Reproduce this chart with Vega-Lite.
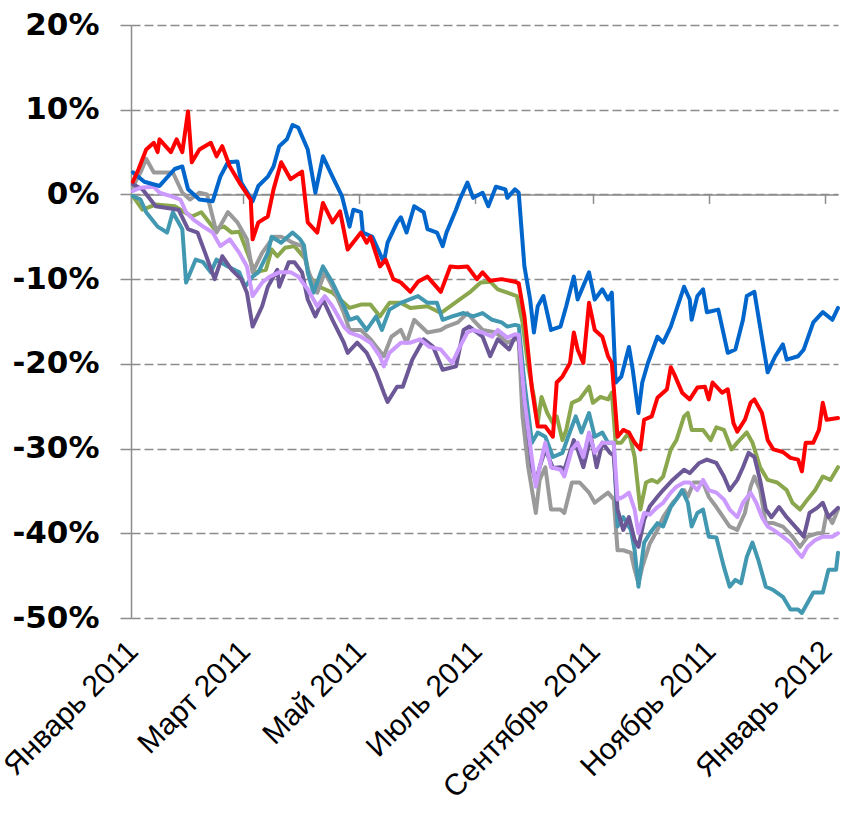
{
"$schema": "https://vega.github.io/schema/vega-lite/v6.json",
"width": 707, "height": 593,
"autosize": {"type": "none"},
"padding": {"left": 131, "top": 25, "right": 3, "bottom": 195},
"background": "white",
"config": {"view": {"stroke": null}, "font": "Liberation Sans"},
"resolve": {"axis": {"x": "independent"}},
"layer": [
{
"data": {"values": [
{"s":"1","d":"2011-01-02","v":-0.2},{"s":"1","d":"2011-01-07","v":-1.8},{"s":"1","d":"2011-01-14","v":-1.2},{"s":"1","d":"2011-01-24","v":-1.4},{"s":"1","d":"2011-02-02","v":-2.6},{"s":"1","d":"2011-02-07","v":-2.1},{"s":"1","d":"2011-02-14","v":-4.1},{"s":"1","d":"2011-02-19","v":-3.8},{"s":"1","d":"2011-02-23","v":-4.5},{"s":"1","d":"2011-02-27","v":-4.4},{"s":"1","d":"2011-03-04","v":-7.3},{"s":"1","d":"2011-03-07","v":-9.2},{"s":"1","d":"2011-03-13","v":-8.9},{"s":"1","d":"2011-03-16","v":-6.5},{"s":"1","d":"2011-03-19","v":-7.3},{"s":"1","d":"2011-03-23","v":-6.3},{"s":"1","d":"2011-03-28","v":-6.1},{"s":"1","d":"2011-04-03","v":-7.7},{"s":"1","d":"2011-04-05","v":-9.7},{"s":"1","d":"2011-04-10","v":-10.9},{"s":"1","d":"2011-04-17","v":-11.6},{"s":"1","d":"2011-04-23","v":-12.8},{"s":"1","d":"2011-04-26","v":-13.4},{"s":"1","d":"2011-05-02","v":-13.0},{"s":"1","d":"2011-05-07","v":-13.0},{"s":"1","d":"2011-05-12","v":-14.4},{"s":"1","d":"2011-05-17","v":-12.8},{"s":"1","d":"2011-05-23","v":-12.8},{"s":"1","d":"2011-05-28","v":-13.4},{"s":"1","d":"2011-06-06","v":-13.2},{"s":"1","d":"2011-06-13","v":-14.0},{"s":"1","d":"2011-06-23","v":-12.4},{"s":"1","d":"2011-06-28","v":-11.6},{"s":"1","d":"2011-07-04","v":-10.4},{"s":"1","d":"2011-07-09","v":-10.3},{"s":"1","d":"2011-07-13","v":-11.2},{"s":"1","d":"2011-07-18","v":-11.6},{"s":"1","d":"2011-07-23","v":-12.0},{"s":"1","d":"2011-07-26","v":-15.1},{"s":"1","d":"2011-07-29","v":-20.3},{"s":"1","d":"2011-08-01","v":-23.9},{"s":"1","d":"2011-08-03","v":-27.0},{"s":"1","d":"2011-08-05","v":-23.9},{"s":"1","d":"2011-08-08","v":-25.8},{"s":"1","d":"2011-08-11","v":-27.0},{"s":"1","d":"2011-08-13","v":-26.2},{"s":"1","d":"2011-08-16","v":-29.0},{"s":"1","d":"2011-08-18","v":-27.8},{"s":"1","d":"2011-08-21","v":-24.6},{"s":"1","d":"2011-08-25","v":-24.2},{"s":"1","d":"2011-08-30","v":-22.7},{"s":"1","d":"2011-09-01","v":-24.6},{"s":"1","d":"2011-09-05","v":-23.9},{"s":"1","d":"2011-09-09","v":-24.2},{"s":"1","d":"2011-09-11","v":-23.4},{"s":"1","d":"2011-09-13","v":-29.3},{"s":"1","d":"2011-09-16","v":-29.3},{"s":"1","d":"2011-09-20","v":-28.1},{"s":"1","d":"2011-09-23","v":-31.0},{"s":"1","d":"2011-09-26","v":-37.2},{"s":"1","d":"2011-09-29","v":-34.0},{"s":"1","d":"2011-10-02","v":-33.7},{"s":"1","d":"2011-10-05","v":-34.0},{"s":"1","d":"2011-10-08","v":-33.3},{"s":"1","d":"2011-10-12","v":-30.1},{"s":"1","d":"2011-10-15","v":-29.0},{"s":"1","d":"2011-10-19","v":-26.2},{"s":"1","d":"2011-10-21","v":-25.8},{"s":"1","d":"2011-10-23","v":-27.8},{"s":"1","d":"2011-10-29","v":-27.8},{"s":"1","d":"2011-11-02","v":-29.0},{"s":"1","d":"2011-11-05","v":-27.5},{"s":"1","d":"2011-11-09","v":-27.8},{"s":"1","d":"2011-11-13","v":-30.1},{"s":"1","d":"2011-11-16","v":-29.3},{"s":"1","d":"2011-11-21","v":-28.1},{"s":"1","d":"2011-11-24","v":-29.3},{"s":"1","d":"2011-11-28","v":-32.2},{"s":"1","d":"2011-12-02","v":-33.7},{"s":"1","d":"2011-12-07","v":-34.0},{"s":"1","d":"2011-12-12","v":-34.9},{"s":"1","d":"2011-12-15","v":-36.4},{"s":"1","d":"2011-12-19","v":-37.2},{"s":"1","d":"2011-12-23","v":-36.0},{"s":"1","d":"2011-12-27","v":-34.9},{"s":"1","d":"2011-12-31","v":-33.3},{"s":"1","d":"2012-01-04","v":-33.7},{"s":"1","d":"2012-01-08","v":-32.2},

{"s":"2","d":"2011-01-02","v":0.9},{"s":"2","d":"2011-01-06","v":2.6},{"s":"2","d":"2011-01-09","v":4.2},{"s":"2","d":"2011-01-13","v":2.6},{"s":"2","d":"2011-01-23","v":2.6},{"s":"2","d":"2011-01-28","v":0.2},{"s":"2","d":"2011-02-01","v":-0.6},{"s":"2","d":"2011-02-06","v":0.2},{"s":"2","d":"2011-02-10","v":0.0},{"s":"2","d":"2011-02-15","v":-4.5},{"s":"2","d":"2011-02-21","v":-2.1},{"s":"2","d":"2011-02-26","v":-3.3},{"s":"2","d":"2011-03-03","v":-5.3},{"s":"2","d":"2011-03-06","v":-9.2},{"s":"2","d":"2011-03-11","v":-6.9},{"s":"2","d":"2011-03-17","v":-5.0},{"s":"2","d":"2011-03-21","v":-5.0},{"s":"2","d":"2011-03-24","v":-5.3},{"s":"2","d":"2011-03-27","v":-5.7},{"s":"2","d":"2011-04-01","v":-6.1},{"s":"2","d":"2011-04-04","v":-8.9},{"s":"2","d":"2011-04-09","v":-11.6},{"s":"2","d":"2011-04-13","v":-9.2},{"s":"2","d":"2011-04-17","v":-10.9},{"s":"2","d":"2011-04-23","v":-14.0},{"s":"2","d":"2011-04-26","v":-16.0},{"s":"2","d":"2011-05-02","v":-16.0},{"s":"2","d":"2011-05-07","v":-17.1},{"s":"2","d":"2011-05-14","v":-19.1},{"s":"2","d":"2011-05-18","v":-16.8},{"s":"2","d":"2011-05-23","v":-16.0},{"s":"2","d":"2011-05-26","v":-17.5},{"s":"2","d":"2011-05-30","v":-14.8},{"s":"2","d":"2011-06-06","v":-16.3},{"s":"2","d":"2011-06-13","v":-16.0},{"s":"2","d":"2011-06-16","v":-15.6},{"s":"2","d":"2011-06-22","v":-15.1},{"s":"2","d":"2011-06-27","v":-14.0},{"s":"2","d":"2011-06-30","v":-14.8},{"s":"2","d":"2011-07-05","v":-16.0},{"s":"2","d":"2011-07-12","v":-16.3},{"s":"2","d":"2011-07-18","v":-17.5},{"s":"2","d":"2011-07-22","v":-17.1},{"s":"2","d":"2011-07-24","v":-17.2},{"s":"2","d":"2011-07-26","v":-26.2},{"s":"2","d":"2011-07-29","v":-32.2},{"s":"2","d":"2011-08-02","v":-37.6},{"s":"2","d":"2011-08-04","v":-33.7},{"s":"2","d":"2011-08-07","v":-32.2},{"s":"2","d":"2011-08-10","v":-37.2},{"s":"2","d":"2011-08-15","v":-37.2},{"s":"2","d":"2011-08-17","v":-37.6},{"s":"2","d":"2011-08-21","v":-34.0},{"s":"2","d":"2011-08-25","v":-34.0},{"s":"2","d":"2011-08-30","v":-35.2},{"s":"2","d":"2011-09-02","v":-36.4},{"s":"2","d":"2011-09-06","v":-35.7},{"s":"2","d":"2011-09-09","v":-35.2},{"s":"2","d":"2011-09-12","v":-36.0},{"s":"2","d":"2011-09-14","v":-42.0},{"s":"2","d":"2011-09-17","v":-42.0},{"s":"2","d":"2011-09-21","v":-42.3},{"s":"2","d":"2011-09-23","v":-44.3},{"s":"2","d":"2011-09-25","v":-45.9},{"s":"2","d":"2011-09-27","v":-44.0},{"s":"2","d":"2011-10-01","v":-41.2},{"s":"2","d":"2011-10-05","v":-39.6},{"s":"2","d":"2011-10-08","v":-38.1},{"s":"2","d":"2011-10-13","v":-36.4},{"s":"2","d":"2011-10-19","v":-34.9},{"s":"2","d":"2011-10-21","v":-35.7},{"s":"2","d":"2011-10-24","v":-34.0},{"s":"2","d":"2011-10-29","v":-34.0},{"s":"2","d":"2011-11-01","v":-35.7},{"s":"2","d":"2011-11-05","v":-36.9},{"s":"2","d":"2011-11-12","v":-39.2},{"s":"2","d":"2011-11-16","v":-39.6},{"s":"2","d":"2011-11-20","v":-37.6},{"s":"2","d":"2011-11-23","v":-34.5},{"s":"2","d":"2011-11-25","v":-33.3},{"s":"2","d":"2011-11-28","v":-34.9},{"s":"2","d":"2011-12-01","v":-38.8},{"s":"2","d":"2011-12-05","v":-38.8},{"s":"2","d":"2011-12-10","v":-39.2},{"s":"2","d":"2011-12-15","v":-40.4},{"s":"2","d":"2011-12-19","v":-41.6},{"s":"2","d":"2011-12-23","v":-40.4},{"s":"2","d":"2011-12-28","v":-40.0},{"s":"2","d":"2011-12-31","v":-40.0},{"s":"2","d":"2012-01-02","v":-37.6},{"s":"2","d":"2012-01-05","v":-38.8},{"s":"2","d":"2012-01-08","v":-37.2},

{"s":"3","d":"2011-01-02","v":-0.2},{"s":"3","d":"2011-01-06","v":-0.6},{"s":"3","d":"2011-01-09","v":-2.1},{"s":"3","d":"2011-01-15","v":-3.8},{"s":"3","d":"2011-01-20","v":-4.5},{"s":"3","d":"2011-01-23","v":-2.1},{"s":"3","d":"2011-01-28","v":-4.1},{"s":"3","d":"2011-01-30","v":-10.4},{"s":"3","d":"2011-02-04","v":-7.7},{"s":"3","d":"2011-02-08","v":-8.0},{"s":"3","d":"2011-02-12","v":-9.2},{"s":"3","d":"2011-02-15","v":-7.7},{"s":"3","d":"2011-02-21","v":-8.5},{"s":"3","d":"2011-02-27","v":-9.2},{"s":"3","d":"2011-03-02","v":-10.9},{"s":"3","d":"2011-03-06","v":-9.7},{"s":"3","d":"2011-03-09","v":-9.2},{"s":"3","d":"2011-03-14","v":-6.9},{"s":"3","d":"2011-03-16","v":-5.0},{"s":"3","d":"2011-03-21","v":-5.7},{"s":"3","d":"2011-03-27","v":-4.5},{"s":"3","d":"2011-03-31","v":-5.3},{"s":"3","d":"2011-04-02","v":-6.0},{"s":"3","d":"2011-04-04","v":-9.2},{"s":"3","d":"2011-04-07","v":-11.6},{"s":"3","d":"2011-04-12","v":-8.5},{"s":"3","d":"2011-04-17","v":-10.4},{"s":"3","d":"2011-04-23","v":-13.2},{"s":"3","d":"2011-04-26","v":-14.8},{"s":"3","d":"2011-04-30","v":-14.5},{"s":"3","d":"2011-05-05","v":-16.0},{"s":"3","d":"2011-05-10","v":-14.4},{"s":"3","d":"2011-05-13","v":-16.0},{"s":"3","d":"2011-05-17","v":-13.6},{"s":"3","d":"2011-05-23","v":-12.8},{"s":"3","d":"2011-06-01","v":-12.0},{"s":"3","d":"2011-06-06","v":-12.8},{"s":"3","d":"2011-06-11","v":-12.8},{"s":"3","d":"2011-06-14","v":-14.8},{"s":"3","d":"2011-06-19","v":-14.4},{"s":"3","d":"2011-06-25","v":-14.0},{"s":"3","d":"2011-06-30","v":-14.4},{"s":"3","d":"2011-07-05","v":-14.0},{"s":"3","d":"2011-07-10","v":-14.8},{"s":"3","d":"2011-07-15","v":-15.1},{"s":"3","d":"2011-07-18","v":-15.6},{"s":"3","d":"2011-07-22","v":-15.4},{"s":"3","d":"2011-07-24","v":-15.5},{"s":"3","d":"2011-07-27","v":-22.2},{"s":"3","d":"2011-07-31","v":-29.3},{"s":"3","d":"2011-08-03","v":-28.1},{"s":"3","d":"2011-08-07","v":-28.6},{"s":"3","d":"2011-08-11","v":-31.0},{"s":"3","d":"2011-08-16","v":-30.5},{"s":"3","d":"2011-08-19","v":-28.6},{"s":"3","d":"2011-08-23","v":-26.2},{"s":"3","d":"2011-08-26","v":-28.1},{"s":"3","d":"2011-08-30","v":-25.8},{"s":"3","d":"2011-09-02","v":-28.6},{"s":"3","d":"2011-09-06","v":-28.1},{"s":"3","d":"2011-09-09","v":-29.3},{"s":"3","d":"2011-09-12","v":-29.3},{"s":"3","d":"2011-09-14","v":-39.2},{"s":"3","d":"2011-09-17","v":-38.1},{"s":"3","d":"2011-09-21","v":-39.6},{"s":"3","d":"2011-09-23","v":-42.0},{"s":"3","d":"2011-09-25","v":-46.3},{"s":"3","d":"2011-09-28","v":-41.1},{"s":"3","d":"2011-10-01","v":-40.0},{"s":"3","d":"2011-10-05","v":-38.8},{"s":"3","d":"2011-10-08","v":-39.2},{"s":"3","d":"2011-10-12","v":-36.9},{"s":"3","d":"2011-10-15","v":-36.0},{"s":"3","d":"2011-10-18","v":-34.9},{"s":"3","d":"2011-10-21","v":-36.4},{"s":"3","d":"2011-10-23","v":-39.2},{"s":"3","d":"2011-10-26","v":-37.6},{"s":"3","d":"2011-10-29","v":-37.2},{"s":"3","d":"2011-11-01","v":-40.4},{"s":"3","d":"2011-11-05","v":-40.5},{"s":"3","d":"2011-11-09","v":-44.0},{"s":"3","d":"2011-11-12","v":-46.3},{"s":"3","d":"2011-11-15","v":-45.5},{"s":"3","d":"2011-11-18","v":-45.9},{"s":"3","d":"2011-11-21","v":-42.8},{"s":"3","d":"2011-11-24","v":-41.1},{"s":"3","d":"2011-11-27","v":-43.1},{"s":"3","d":"2011-12-01","v":-46.3},{"s":"3","d":"2011-12-05","v":-46.7},{"s":"3","d":"2011-12-10","v":-47.5},{"s":"3","d":"2011-12-14","v":-49.0},{"s":"3","d":"2011-12-18","v":-49.0},{"s":"3","d":"2011-12-20","v":-49.4},{"s":"3","d":"2011-12-23","v":-48.2},{"s":"3","d":"2011-12-26","v":-47.0},{"s":"3","d":"2011-12-31","v":-47.0},{"s":"3","d":"2012-01-03","v":-44.3},{"s":"3","d":"2012-01-07","v":-44.3},{"s":"3","d":"2012-01-08","v":-42.3},

{"s":"4","d":"2011-01-02","v":1.2},{"s":"4","d":"2011-01-07","v":0.6},{"s":"4","d":"2011-01-14","v":-1.4},{"s":"4","d":"2011-01-26","v":-1.8},{"s":"4","d":"2011-01-31","v":-4.1},{"s":"4","d":"2011-02-05","v":-4.5},{"s":"4","d":"2011-02-09","v":-6.9},{"s":"4","d":"2011-02-14","v":-10.0},{"s":"4","d":"2011-02-18","v":-7.3},{"s":"4","d":"2011-02-23","v":-8.9},{"s":"4","d":"2011-02-28","v":-10.0},{"s":"4","d":"2011-03-03","v":-11.6},{"s":"4","d":"2011-03-06","v":-15.6},{"s":"4","d":"2011-03-11","v":-13.2},{"s":"4","d":"2011-03-14","v":-10.9},{"s":"4","d":"2011-03-19","v":-8.9},{"s":"4","d":"2011-03-20","v":-10.9},{"s":"4","d":"2011-03-25","v":-8.0},{"s":"4","d":"2011-03-28","v":-8.0},{"s":"4","d":"2011-04-01","v":-9.2},{"s":"4","d":"2011-04-04","v":-12.4},{"s":"4","d":"2011-04-08","v":-14.4},{"s":"4","d":"2011-04-12","v":-12.4},{"s":"4","d":"2011-04-17","v":-14.8},{"s":"4","d":"2011-04-23","v":-17.5},{"s":"4","d":"2011-04-25","v":-18.7},{"s":"4","d":"2011-04-30","v":-17.5},{"s":"4","d":"2011-05-05","v":-18.7},{"s":"4","d":"2011-05-10","v":-21.0},{"s":"4","d":"2011-05-14","v":-23.4},{"s":"4","d":"2011-05-16","v":-24.5},{"s":"4","d":"2011-05-21","v":-22.7},{"s":"4","d":"2011-05-24","v":-22.7},{"s":"4","d":"2011-05-29","v":-19.5},{"s":"4","d":"2011-06-04","v":-17.1},{"s":"4","d":"2011-06-09","v":-18.0},{"s":"4","d":"2011-06-14","v":-20.7},{"s":"4","d":"2011-06-21","v":-20.3},{"s":"4","d":"2011-06-25","v":-16.0},{"s":"4","d":"2011-06-28","v":-15.6},{"s":"4","d":"2011-07-02","v":-16.3},{"s":"4","d":"2011-07-05","v":-16.8},{"s":"4","d":"2011-07-09","v":-19.1},{"s":"4","d":"2011-07-13","v":-17.1},{"s":"4","d":"2011-07-19","v":-18.3},{"s":"4","d":"2011-07-22","v":-16.8},{"s":"4","d":"2011-07-24","v":-17.0},{"s":"4","d":"2011-07-27","v":-24.2},{"s":"4","d":"2011-07-31","v":-32.2},{"s":"4","d":"2011-08-02","v":-34.0},{"s":"4","d":"2011-08-04","v":-32.2},{"s":"4","d":"2011-08-07","v":-30.1},{"s":"4","d":"2011-08-11","v":-32.3},{"s":"4","d":"2011-08-15","v":-32.2},{"s":"4","d":"2011-08-17","v":-32.5},{"s":"4","d":"2011-08-22","v":-29.0},{"s":"4","d":"2011-08-24","v":-30.1},{"s":"4","d":"2011-08-27","v":-32.2},{"s":"4","d":"2011-08-31","v":-28.6},{"s":"4","d":"2011-09-03","v":-32.2},{"s":"4","d":"2011-09-06","v":-29.3},{"s":"4","d":"2011-09-10","v":-30.5},{"s":"4","d":"2011-09-12","v":-30.8},{"s":"4","d":"2011-09-14","v":-37.2},{"s":"4","d":"2011-09-17","v":-39.6},{"s":"4","d":"2011-09-20","v":-38.1},{"s":"4","d":"2011-09-23","v":-40.8},{"s":"4","d":"2011-09-25","v":-41.6},{"s":"4","d":"2011-09-28","v":-38.4},{"s":"4","d":"2011-10-01","v":-36.8},{"s":"4","d":"2011-10-05","v":-35.7},{"s":"4","d":"2011-10-08","v":-34.9},{"s":"4","d":"2011-10-13","v":-33.7},{"s":"4","d":"2011-10-19","v":-32.5},{"s":"4","d":"2011-10-22","v":-32.9},{"s":"4","d":"2011-10-27","v":-31.7},{"s":"4","d":"2011-10-31","v":-31.3},{"s":"4","d":"2011-11-05","v":-31.7},{"s":"4","d":"2011-11-09","v":-33.3},{"s":"4","d":"2011-11-12","v":-34.9},{"s":"4","d":"2011-11-16","v":-33.7},{"s":"4","d":"2011-11-19","v":-32.2},{"s":"4","d":"2011-11-22","v":-30.5},{"s":"4","d":"2011-11-25","v":-31.0},{"s":"4","d":"2011-11-28","v":-33.7},{"s":"4","d":"2011-12-01","v":-37.2},{"s":"4","d":"2011-12-04","v":-38.1},{"s":"4","d":"2011-12-08","v":-36.9},{"s":"4","d":"2011-12-12","v":-38.1},{"s":"4","d":"2011-12-18","v":-39.6},{"s":"4","d":"2011-12-21","v":-40.4},{"s":"4","d":"2011-12-24","v":-37.6},{"s":"4","d":"2011-12-28","v":-37.0},{"s":"4","d":"2011-12-31","v":-36.4},{"s":"4","d":"2012-01-03","v":-38.1},{"s":"4","d":"2012-01-08","v":-37.0},

{"s":"5","d":"2011-01-02","v":0.4},{"s":"5","d":"2011-01-06","v":0.8},{"s":"5","d":"2011-01-13","v":0.9},{"s":"5","d":"2011-01-16","v":0.2},{"s":"5","d":"2011-01-22","v":-0.2},{"s":"5","d":"2011-01-27","v":-0.6},{"s":"5","d":"2011-01-30","v":-2.1},{"s":"5","d":"2011-02-03","v":-3.0},{"s":"5","d":"2011-02-08","v":-3.8},{"s":"5","d":"2011-02-13","v":-4.5},{"s":"5","d":"2011-02-17","v":-6.1},{"s":"5","d":"2011-02-22","v":-5.3},{"s":"5","d":"2011-02-27","v":-6.9},{"s":"5","d":"2011-03-03","v":-8.5},{"s":"5","d":"2011-03-06","v":-12.0},{"s":"5","d":"2011-03-11","v":-10.4},{"s":"5","d":"2011-03-15","v":-9.7},{"s":"5","d":"2011-03-20","v":-9.2},{"s":"5","d":"2011-03-26","v":-9.2},{"s":"5","d":"2011-03-30","v":-9.7},{"s":"5","d":"2011-04-04","v":-11.2},{"s":"5","d":"2011-04-09","v":-13.2},{"s":"5","d":"2011-04-13","v":-12.0},{"s":"5","d":"2011-04-17","v":-13.2},{"s":"5","d":"2011-04-23","v":-15.6},{"s":"5","d":"2011-04-26","v":-16.3},{"s":"5","d":"2011-05-02","v":-16.8},{"s":"5","d":"2011-05-07","v":-17.5},{"s":"5","d":"2011-05-12","v":-19.1},{"s":"5","d":"2011-05-14","v":-20.3},{"s":"5","d":"2011-05-17","v":-18.7},{"s":"5","d":"2011-05-23","v":-17.5},{"s":"5","d":"2011-05-28","v":-17.5},{"s":"5","d":"2011-06-02","v":-17.1},{"s":"5","d":"2011-06-07","v":-18.0},{"s":"5","d":"2011-06-13","v":-18.3},{"s":"5","d":"2011-06-19","v":-19.9},{"s":"5","d":"2011-06-23","v":-18.0},{"s":"5","d":"2011-06-27","v":-16.3},{"s":"5","d":"2011-06-30","v":-16.0},{"s":"5","d":"2011-07-05","v":-16.3},{"s":"5","d":"2011-07-10","v":-16.8},{"s":"5","d":"2011-07-13","v":-16.0},{"s":"5","d":"2011-07-18","v":-16.9},{"s":"5","d":"2011-07-22","v":-16.5},{"s":"5","d":"2011-07-24","v":-16.6},{"s":"5","d":"2011-07-27","v":-24.2},{"s":"5","d":"2011-07-31","v":-31.3},{"s":"5","d":"2011-08-02","v":-34.5},{"s":"5","d":"2011-08-04","v":-32.2},{"s":"5","d":"2011-08-07","v":-29.3},{"s":"5","d":"2011-08-10","v":-32.2},{"s":"5","d":"2011-08-15","v":-32.5},{"s":"5","d":"2011-08-17","v":-33.3},{"s":"5","d":"2011-08-21","v":-30.1},{"s":"5","d":"2011-08-24","v":-29.3},{"s":"5","d":"2011-08-27","v":-31.0},{"s":"5","d":"2011-08-30","v":-28.1},{"s":"5","d":"2011-09-02","v":-30.5},{"s":"5","d":"2011-09-06","v":-29.3},{"s":"5","d":"2011-09-09","v":-29.3},{"s":"5","d":"2011-09-12","v":-29.3},{"s":"5","d":"2011-09-14","v":-36.0},{"s":"5","d":"2011-09-17","v":-35.7},{"s":"5","d":"2011-09-20","v":-35.2},{"s":"5","d":"2011-09-23","v":-37.2},{"s":"5","d":"2011-09-25","v":-40.0},{"s":"5","d":"2011-09-28","v":-37.6},{"s":"5","d":"2011-10-01","v":-37.8},{"s":"5","d":"2011-10-05","v":-36.9},{"s":"5","d":"2011-10-08","v":-36.4},{"s":"5","d":"2011-10-12","v":-35.2},{"s":"5","d":"2011-10-15","v":-34.5},{"s":"5","d":"2011-10-19","v":-34.0},{"s":"5","d":"2011-10-22","v":-34.0},{"s":"5","d":"2011-10-26","v":-34.9},{"s":"5","d":"2011-10-29","v":-33.7},{"s":"5","d":"2011-11-01","v":-34.9},{"s":"5","d":"2011-11-05","v":-35.2},{"s":"5","d":"2011-11-09","v":-36.0},{"s":"5","d":"2011-11-12","v":-37.2},{"s":"5","d":"2011-11-16","v":-38.1},{"s":"5","d":"2011-11-19","v":-36.4},{"s":"5","d":"2011-11-23","v":-35.2},{"s":"5","d":"2011-11-26","v":-36.4},{"s":"5","d":"2011-11-29","v":-38.1},{"s":"5","d":"2011-12-02","v":-39.2},{"s":"5","d":"2011-12-05","v":-39.6},{"s":"5","d":"2011-12-10","v":-40.4},{"s":"5","d":"2011-12-14","v":-41.1},{"s":"5","d":"2011-12-18","v":-42.3},{"s":"5","d":"2011-12-20","v":-42.8},{"s":"5","d":"2011-12-23","v":-41.6},{"s":"5","d":"2011-12-27","v":-40.8},{"s":"5","d":"2011-12-31","v":-40.4},{"s":"5","d":"2012-01-05","v":-40.4},{"s":"5","d":"2012-01-08","v":-40.0},

{"s":"6","d":"2011-01-02","v":2.6},{"s":"6","d":"2011-01-08","v":1.5},{"s":"6","d":"2011-01-16","v":1.0},{"s":"6","d":"2011-01-24","v":3.0},{"s":"6","d":"2011-01-28","v":3.3},{"s":"6","d":"2011-01-31","v":0.6},{"s":"6","d":"2011-02-06","v":-0.6},{"s":"6","d":"2011-02-13","v":-0.8},{"s":"6","d":"2011-02-17","v":2.1},{"s":"6","d":"2011-02-21","v":3.8},{"s":"6","d":"2011-02-26","v":3.9},{"s":"6","d":"2011-02-28","v":1.4},{"s":"6","d":"2011-03-06","v":-0.8},{"s":"6","d":"2011-03-09","v":1.0},{"s":"6","d":"2011-03-14","v":2.1},{"s":"6","d":"2011-03-17","v":3.3},{"s":"6","d":"2011-03-20","v":5.7},{"s":"6","d":"2011-03-24","v":6.5},{"s":"6","d":"2011-03-27","v":8.2},{"s":"6","d":"2011-03-30","v":7.9},{"s":"6","d":"2011-04-04","v":5.3},{"s":"6","d":"2011-04-08","v":0.2},{"s":"6","d":"2011-04-12","v":4.5},{"s":"6","d":"2011-04-17","v":2.1},{"s":"6","d":"2011-04-22","v":-0.2},{"s":"6","d":"2011-04-26","v":-3.8},{"s":"6","d":"2011-04-28","v":-1.8},{"s":"6","d":"2011-05-02","v":-2.1},{"s":"6","d":"2011-05-03","v":-4.5},{"s":"6","d":"2011-05-08","v":-5.0},{"s":"6","d":"2011-05-14","v":-8.0},{"s":"6","d":"2011-05-16","v":-5.7},{"s":"6","d":"2011-05-21","v":-3.3},{"s":"6","d":"2011-05-23","v":-2.7},{"s":"6","d":"2011-05-26","v":-4.5},{"s":"6","d":"2011-05-30","v":-1.4},{"s":"6","d":"2011-06-04","v":-2.1},{"s":"6","d":"2011-06-06","v":-4.1},{"s":"6","d":"2011-06-11","v":-4.5},{"s":"6","d":"2011-06-14","v":-6.1},{"s":"6","d":"2011-06-16","v":-4.5},{"s":"6","d":"2011-06-21","v":-1.8},{"s":"6","d":"2011-06-23","v":-0.6},{"s":"6","d":"2011-06-27","v":1.4},{"s":"6","d":"2011-06-30","v":-0.4},{"s":"6","d":"2011-07-05","v":0.2},{"s":"6","d":"2011-07-08","v":-1.4},{"s":"6","d":"2011-07-12","v":0.9},{"s":"6","d":"2011-07-17","v":0.6},{"s":"6","d":"2011-07-18","v":-0.4},{"s":"6","d":"2011-07-22","v":0.6},{"s":"6","d":"2011-07-24","v":0.2},{"s":"6","d":"2011-07-27","v":-8.5},{"s":"6","d":"2011-07-30","v":-12.4},{"s":"6","d":"2011-08-01","v":-16.3},{"s":"6","d":"2011-08-03","v":-13.2},{"s":"6","d":"2011-08-06","v":-12.0},{"s":"6","d":"2011-08-10","v":-16.0},{"s":"6","d":"2011-08-15","v":-15.6},{"s":"6","d":"2011-08-18","v":-13.2},{"s":"6","d":"2011-08-22","v":-9.7},{"s":"6","d":"2011-08-24","v":-12.4},{"s":"6","d":"2011-08-30","v":-9.2},{"s":"6","d":"2011-09-02","v":-12.4},{"s":"6","d":"2011-09-06","v":-11.2},{"s":"6","d":"2011-09-09","v":-12.4},{"s":"6","d":"2011-09-11","v":-11.6},{"s":"6","d":"2011-09-13","v":-22.2},{"s":"6","d":"2011-09-16","v":-21.5},{"s":"6","d":"2011-09-20","v":-18.0},{"s":"6","d":"2011-09-22","v":-20.7},{"s":"6","d":"2011-09-25","v":-25.8},{"s":"6","d":"2011-09-27","v":-22.2},{"s":"6","d":"2011-09-30","v":-19.9},{"s":"6","d":"2011-10-05","v":-16.8},{"s":"6","d":"2011-10-08","v":-17.5},{"s":"6","d":"2011-10-12","v":-15.6},{"s":"6","d":"2011-10-15","v":-13.6},{"s":"6","d":"2011-10-19","v":-10.9},{"s":"6","d":"2011-10-22","v":-12.4},{"s":"6","d":"2011-10-23","v":-14.8},{"s":"6","d":"2011-10-26","v":-12.0},{"s":"6","d":"2011-10-29","v":-11.2},{"s":"6","d":"2011-10-31","v":-13.9},{"s":"6","d":"2011-11-06","v":-13.6},{"s":"6","d":"2011-11-11","v":-18.7},{"s":"6","d":"2011-11-15","v":-18.3},{"s":"6","d":"2011-11-19","v":-14.8},{"s":"6","d":"2011-11-21","v":-12.0},{"s":"6","d":"2011-11-25","v":-11.5},{"s":"6","d":"2011-11-28","v":-15.6},{"s":"6","d":"2011-12-02","v":-21.0},{"s":"6","d":"2011-12-06","v":-19.1},{"s":"6","d":"2011-12-10","v":-17.7},{"s":"6","d":"2011-12-12","v":-19.5},{"s":"6","d":"2011-12-18","v":-19.1},{"s":"6","d":"2011-12-21","v":-18.3},{"s":"6","d":"2011-12-26","v":-15.1},{"s":"6","d":"2011-12-31","v":-13.9},{"s":"6","d":"2012-01-05","v":-14.8},{"s":"6","d":"2012-01-08","v":-13.4},

{"s":"7","d":"2011-01-02","v":1.5},{"s":"7","d":"2011-01-05","v":3.0},{"s":"7","d":"2011-01-09","v":5.3},{"s":"7","d":"2011-01-13","v":6.1},{"s":"7","d":"2011-01-15","v":5.0},{"s":"7","d":"2011-01-16","v":6.5},{"s":"7","d":"2011-01-22","v":5.0},{"s":"7","d":"2011-01-25","v":6.5},{"s":"7","d":"2011-01-28","v":5.0},{"s":"7","d":"2011-01-31","v":9.8},{"s":"7","d":"2011-02-02","v":3.8},{"s":"7","d":"2011-02-06","v":5.3},{"s":"7","d":"2011-02-12","v":6.1},{"s":"7","d":"2011-02-15","v":4.5},{"s":"7","d":"2011-02-18","v":5.7},{"s":"7","d":"2011-02-22","v":3.3},{"s":"7","d":"2011-02-27","v":1.4},{"s":"7","d":"2011-03-05","v":-0.6},{"s":"7","d":"2011-03-06","v":-5.3},{"s":"7","d":"2011-03-09","v":-3.3},{"s":"7","d":"2011-03-14","v":-2.6},{"s":"7","d":"2011-03-17","v":0.6},{"s":"7","d":"2011-03-21","v":3.8},{"s":"7","d":"2011-03-26","v":1.8},{"s":"7","d":"2011-04-01","v":2.7},{"s":"7","d":"2011-04-04","v":-3.3},{"s":"7","d":"2011-04-09","v":-4.5},{"s":"7","d":"2011-04-12","v":-1.0},{"s":"7","d":"2011-04-17","v":-3.3},{"s":"7","d":"2011-04-21","v":-2.0},{"s":"7","d":"2011-04-25","v":-6.5},{"s":"7","d":"2011-05-02","v":-4.5},{"s":"7","d":"2011-05-05","v":-5.7},{"s":"7","d":"2011-05-07","v":-5.0},{"s":"7","d":"2011-05-12","v":-8.5},{"s":"7","d":"2011-05-15","v":-7.7},{"s":"7","d":"2011-05-19","v":-10.0},{"s":"7","d":"2011-05-23","v":-10.4},{"s":"7","d":"2011-05-28","v":-11.5},{"s":"7","d":"2011-06-01","v":-10.3},{"s":"7","d":"2011-06-06","v":-9.7},{"s":"7","d":"2011-06-13","v":-11.5},{"s":"7","d":"2011-06-18","v":-8.5},{"s":"7","d":"2011-06-22","v":-8.6},{"s":"7","d":"2011-06-27","v":-8.5},{"s":"7","d":"2011-07-02","v":-10.0},{"s":"7","d":"2011-07-05","v":-9.2},{"s":"7","d":"2011-07-09","v":-10.2},{"s":"7","d":"2011-07-15","v":-10.0},{"s":"7","d":"2011-07-22","v":-10.3},{"s":"7","d":"2011-07-24","v":-10.5},{"s":"7","d":"2011-07-27","v":-14.4},{"s":"7","d":"2011-07-31","v":-23.0},{"s":"7","d":"2011-08-03","v":-27.4},{"s":"7","d":"2011-08-07","v":-27.4},{"s":"7","d":"2011-08-11","v":-28.6},{"s":"7","d":"2011-08-13","v":-22.2},{"s":"7","d":"2011-08-16","v":-21.5},{"s":"7","d":"2011-08-20","v":-19.9},{"s":"7","d":"2011-08-22","v":-16.3},{"s":"7","d":"2011-08-24","v":-18.3},{"s":"7","d":"2011-08-27","v":-19.9},{"s":"7","d":"2011-08-30","v":-12.8},{"s":"7","d":"2011-09-02","v":-16.0},{"s":"7","d":"2011-09-06","v":-16.8},{"s":"7","d":"2011-09-09","v":-19.1},{"s":"7","d":"2011-09-11","v":-19.9},{"s":"7","d":"2011-09-14","v":-28.6},{"s":"7","d":"2011-09-17","v":-27.8},{"s":"7","d":"2011-09-20","v":-28.1},{"s":"7","d":"2011-09-23","v":-29.3},{"s":"7","d":"2011-09-26","v":-30.1},{"s":"7","d":"2011-09-28","v":-26.6},{"s":"7","d":"2011-10-02","v":-26.2},{"s":"7","d":"2011-10-05","v":-24.0},{"s":"7","d":"2011-10-10","v":-23.0},{"s":"7","d":"2011-10-12","v":-20.4},{"s":"7","d":"2011-10-14","v":-21.3},{"s":"7","d":"2011-10-18","v":-23.4},{"s":"7","d":"2011-10-22","v":-24.2},{"s":"7","d":"2011-10-26","v":-22.8},{"s":"7","d":"2011-10-30","v":-22.7},{"s":"7","d":"2011-11-01","v":-24.2},{"s":"7","d":"2011-11-03","v":-22.2},{"s":"7","d":"2011-11-08","v":-23.4},{"s":"7","d":"2011-11-11","v":-23.0},{"s":"7","d":"2011-11-14","v":-27.0},{"s":"7","d":"2011-11-16","v":-28.0},{"s":"7","d":"2011-11-20","v":-26.6},{"s":"7","d":"2011-11-23","v":-24.6},{"s":"7","d":"2011-11-25","v":-24.2},{"s":"7","d":"2011-11-29","v":-25.8},{"s":"7","d":"2011-12-02","v":-29.0},{"s":"7","d":"2011-12-05","v":-30.1},{"s":"7","d":"2011-12-10","v":-30.4},{"s":"7","d":"2011-12-14","v":-31.1},{"s":"7","d":"2011-12-18","v":-31.3},{"s":"7","d":"2011-12-20","v":-32.7},{"s":"7","d":"2011-12-22","v":-29.3},{"s":"7","d":"2011-12-26","v":-29.3},{"s":"7","d":"2011-12-29","v":-27.8},{"s":"7","d":"2011-12-31","v":-24.6},{"s":"7","d":"2012-01-02","v":-26.6},{"s":"7","d":"2012-01-08","v":-26.4}
]},
"mark": {"type": "line", "strokeWidth": 4, "strokeJoin": "round", "strokeCap": "round"},
"encoding": {
"x": {"field": "d", "type": "temporal",
 "scale": {"type": "utc", "domain": [{"year": 2011, "month": 1, "date": 1, "utc": true}, {"year": 2012, "month": 1, "date": 8, "utc": true}]},
 "axis": {"values": [{"year": 2011, "month": 1, "date": 1, "utc": true}, {"year": 2011, "month": 3, "date": 1, "utc": true}, {"year": 2011, "month": 5, "date": 1, "utc": true}, {"year": 2011, "month": 7, "date": 1, "utc": true}, {"year": 2011, "month": 9, "date": 1, "utc": true}, {"year": 2011, "month": 11, "date": 1, "utc": true}, {"year": 2012, "month": 1, "date": 1, "utc": true}],
  "labelExpr": "['Январь','Февраль','Март','Апрель','Май','Июнь','Июль','Август','Сентябрь','Октябрь','Ноябрь','Декабрь'][utcmonth(datum.value)] + ' ' + utcyear(datum.value)",
  "labelAngle": -45, "labelAlign": "right", "labelBaseline": "middle", "labelFontSize": 30, "labelFont": "Liberation Sans", "labelColor": "#000000",
  "labelPadding": 28, "labelOffset": 2, "labelLimit": 0, "tickSize": 0, "ticks": false, "domain": false, "grid": false, "title": null,
  "labelOverlap": false, "labelFlush": false, "labelBound": false}},
"y": {"field": "v", "type": "quantitative",
 "scale": {"domain": [-50, 20], "nice": false, "zero": false},
 "axis": {"values": [-50, -40, -30, -20, -10, 0, 10, 20], "labelExpr": "datum.value + '%'",
  "labelFont": "DejaVu Sans", "labelFontSize": 31, "labelFontWeight": "bold", "labelColor": "#000000",
  "labelPadding": 21, "tickSize": 11, "tickColor": "#8c8c8c", "tickWidth": 1.5,
  "domainColor": "#8c8c8c", "domainWidth": 1.5,
  "grid": true, "gridColor": "#8c8c8c", "gridWidth": 1.5, "gridDash": [9, 4], "title": null}},
"color": {"field": "s", "type": "nominal", "legend": null,
 "scale": {"domain": ["1", "2", "3", "4", "5", "6", "7"], "range": ["#8BA74D", "#9A9A9A", "#4198B0", "#6C5896", "#CC99FF", "#0066CC", "#FF0000"]}}
}
},
{
"data": {"values": [{"d": "2011-06-01"}]},
"mark": {"type": "rule", "opacity": 0},
"encoding": {
"x": {"field": "d", "type": "temporal",
 "axis": {"orient": "top", "values": [{"year": 2011, "month": 1, "date": 1, "utc": true}, {"year": 2011, "month": 3, "date": 1, "utc": true}, {"year": 2011, "month": 5, "date": 1, "utc": true}, {"year": 2011, "month": 7, "date": 1, "utc": true}, {"year": 2011, "month": 9, "date": 1, "utc": true}, {"year": 2011, "month": 11, "date": 1, "utc": true}, {"year": 2012, "month": 1, "date": 1, "utc": true}],
  "offset": -169.4, "labels": false, "grid": false, "title": null,
  "domainColor": "#8c8c8c", "domainWidth": 1.5,
  "ticks": true, "tickSize": -9, "tickColor": "#8c8c8c", "tickWidth": 1.5}}
}
}
]
}
